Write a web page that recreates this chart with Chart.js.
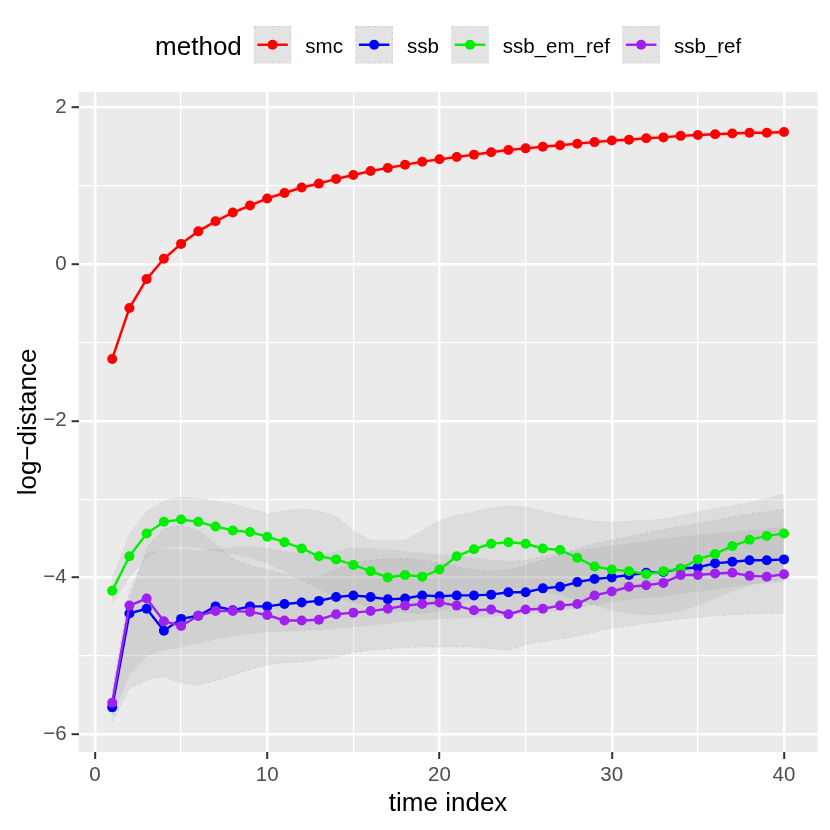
<!DOCTYPE html>
<html>
<head>
<meta charset="utf-8">
<script src="https://cdn.jsdelivr.net/npm/chart.js@4.4.1/dist/chart.umd.min.js"></script>
<style>
  html, body { margin: 0; padding: 0; background: #ffffff; }
  #wrap { width: 830px; height: 830px; }
</style>
</head>
<body>
<div id="wrap"><canvas id="chart" width="830" height="830"></canvas></div>
<script>
// x values (time index)
const timeIndex = [1, 2, 3, 4, 5, 6, 7, 8, 9, 10, 11, 12, 13, 14, 15, 16, 17, 18, 19, 20,
                   21, 22, 23, 24, 25, 26, 27, 28, 29, 30, 31, 32, 33, 34, 35, 36, 37, 38, 39, 40];

// method lines (log-distance)
const smc = [-1.21, -0.56, -0.19, 0.07, 0.26, 0.42, 0.55, 0.66, 0.75, 0.84,
             0.91, 0.98, 1.03, 1.09, 1.14, 1.19, 1.23, 1.27, 1.31, 1.34,
             1.37, 1.40, 1.43, 1.46, 1.48, 1.50, 1.52, 1.54, 1.56, 1.58,
             1.59, 1.61, 1.62, 1.64, 1.65, 1.66, 1.67, 1.68, 1.68, 1.69];
const ssb = [-5.66, -4.46, -4.40, -4.68, -4.53, -4.49, -4.37, -4.42, -4.37, -4.37,
             -4.34, -4.32, -4.30, -4.25, -4.23, -4.25, -4.28, -4.27, -4.23, -4.24,
             -4.23, -4.23, -4.22, -4.19, -4.19, -4.14, -4.12, -4.06, -4.02, -4.00,
             -3.97, -3.94, -3.93, -3.89, -3.87, -3.82, -3.80, -3.78, -3.78, -3.77];
const ssbEmRef = [-4.17, -3.73, -3.44, -3.29, -3.26, -3.29, -3.35, -3.40, -3.42, -3.48,
                  -3.55, -3.63, -3.73, -3.77, -3.84, -3.92, -4.00, -3.97, -3.99, -3.90,
                  -3.73, -3.64, -3.57, -3.55, -3.57, -3.63, -3.65, -3.75, -3.86, -3.90,
                  -3.92, -3.96, -3.92, -3.89, -3.77, -3.70, -3.60, -3.52, -3.47, -3.44];
const ssbRef = [-5.60, -4.36, -4.27, -4.56, -4.62, -4.49, -4.43, -4.43, -4.44, -4.48,
                -4.55, -4.55, -4.54, -4.47, -4.45, -4.43, -4.40, -4.36, -4.34, -4.32,
                -4.36, -4.42, -4.41, -4.47, -4.41, -4.40, -4.36, -4.34, -4.23, -4.18,
                -4.12, -4.10, -4.07, -3.97, -3.97, -3.95, -3.94, -3.98, -3.99, -3.96];

// ribbon bounds
const smcUpper = [-1.18, -0.53, -0.16, 0.10, 0.29, 0.45, 0.58, 0.69, 0.78, 0.87,
                  0.94, 1.01, 1.06, 1.12, 1.17, 1.22, 1.26, 1.30, 1.34, 1.37,
                  1.40, 1.43, 1.46, 1.49, 1.51, 1.53, 1.55, 1.57, 1.59, 1.61,
                  1.62, 1.64, 1.65, 1.67, 1.68, 1.69, 1.70, 1.71, 1.71, 1.72];
const smcLower = [-1.24, -0.59, -0.22, 0.04, 0.23, 0.39, 0.52, 0.63, 0.72, 0.81,
                  0.88, 0.95, 1.00, 1.06, 1.11, 1.16, 1.20, 1.24, 1.28, 1.31,
                  1.34, 1.37, 1.40, 1.43, 1.45, 1.47, 1.49, 1.51, 1.53, 1.55,
                  1.56, 1.58, 1.59, 1.61, 1.62, 1.63, 1.64, 1.65, 1.65, 1.66];
const ssbUpper = [-5.45, -4.30, -3.62, -3.38, -3.33, -3.40, -3.58, -3.76, -3.85, -3.90,
                  -3.96, -4.00, -3.99, -3.90, -3.82, -3.78, -3.76, -3.76, -3.78, -3.82,
                  -3.86, -3.90, -3.92, -3.90, -3.85, -3.78, -3.71, -3.63, -3.57, -3.52,
                  -3.48, -3.43, -3.39, -3.35, -3.31, -3.27, -3.23, -3.19, -3.16, -3.13];
const ssbLower = [-5.84, -5.42, -5.31, -5.27, -5.35, -5.38, -5.32, -5.25, -5.18, -5.12,
                  -5.09, -5.08, -5.05, -5.02, -4.96, -4.93, -4.91, -4.90, -4.89, -4.89,
                  -4.89, -4.89, -4.91, -4.93, -4.86, -4.82, -4.79, -4.75, -4.70, -4.65,
                  -4.62, -4.59, -4.56, -4.53, -4.51, -4.49, -4.48, -4.47, -4.46, -4.46];
const emUpper = [-4.00, -3.45, -3.15, -3.02, -2.97, -2.99, -3.02, -3.06, -3.12, -3.18,
                 -3.15, -3.12, -3.15, -3.22, -3.40, -3.52, -3.53, -3.52, -3.40, -3.27,
                 -3.20, -3.16, -3.11, -3.08, -3.10, -3.15, -3.20, -3.24, -3.28, -3.29,
                 -3.28, -3.27, -3.25, -3.21, -3.16, -3.12, -3.08, -3.04, -2.99, -2.93];
const emLower = [-4.34, -4.00, -3.75, -3.62, -3.60, -3.62, -3.66, -3.70, -3.75, -3.82,
                 -3.92, -4.04, -4.15, -4.25, -4.32, -4.38, -4.42, -4.45, -4.46, -4.44,
                 -4.36, -4.26, -4.18, -4.14, -4.14, -4.17, -4.22, -4.29, -4.36, -4.42,
                 -4.46, -4.48, -4.47, -4.43, -4.36, -4.27, -4.18, -4.10, -4.05, -4.03];
const refUpper = [-5.45, -4.15, -3.70, -3.64, -3.64, -3.66, -3.64, -3.62, -3.61, -3.63,
                  -3.67, -3.69, -3.72, -3.67, -3.62, -3.63, -3.65, -3.67, -3.69, -3.71,
                  -3.73, -3.75, -3.78, -3.79, -3.78, -3.73, -3.69, -3.66, -3.63, -3.60,
                  -3.57, -3.54, -3.51, -3.48, -3.46, -3.44, -3.42, -3.40, -3.38, -3.36];
const refLower = [-5.75, -5.25, -5.00, -4.93, -4.89, -4.84, -4.79, -4.75, -4.72, -4.69,
                  -4.69, -4.68, -4.67, -4.65, -4.63, -4.61, -4.59, -4.56, -4.54, -4.53,
                  -4.52, -4.51, -4.50, -4.48, -4.46, -4.44, -4.42, -4.39, -4.35, -4.31,
                  -4.28, -4.26, -4.24, -4.21, -4.18, -4.15, -4.12, -4.09, -4.07, -4.05];

// legend + axes
const methods = ['smc', 'ssb', 'ssb_em_ref', 'ssb_ref'];
const methodColors = ['#FF0000', '#0000FF', '#00EE00', '#A020F0'];
const xMajorTicks = [0, 10, 20, 30, 40];
const xMinorTicks = [5, 15, 25, 35];
const yMajorTicks = [-6, -4, -2, 0, 2];
const yMinorTicks = [-5, -3, -1, 1];

const FONT = '"Liberation Sans", Arial, Helvetica, sans-serif';

function pts(values) {
    return timeIndex.map((t, i) => ({ x: t, y: values[i] }));
}

function fade(hex, a) {
    const r = parseInt(hex.slice(1, 3), 16);
    const g = parseInt(hex.slice(3, 5), 16);
    const b = parseInt(hex.slice(5, 7), 16);
    return `rgba(${r},${g},${b},${a})`;
}

const ribbonFill = 'rgba(150,150,150,0.16)';
const ribbons = [[smcUpper, smcLower], [ssbUpper, ssbLower], [emUpper, emLower], [refUpper, refLower]];
const lines = [smc, ssb, ssbEmRef, ssbRef];

const datasets = [];
ribbons.forEach(([up, lo], k) => {
    const edge = fade(methodColors[k], 0.09);
    datasets.push({
        data: pts(up), fill: '+1', backgroundColor: ribbonFill,
        borderColor: edge, borderWidth: 1.2, borderDash: [2, 4],
        pointRadius: 0, order: 10
    });
    datasets.push({
        data: pts(lo), fill: false,
        borderColor: edge, borderWidth: 1.2, borderDash: [2, 4],
        pointRadius: 0, order: 10
    });
});
lines.forEach((vals, k) => {
    datasets.push({
        label: methods[k], data: pts(vals), fill: false,
        borderColor: methodColors[k], backgroundColor: methodColors[k],
        borderWidth: 2.4, pointRadius: 5, pointBorderWidth: 0,
        order: 4 - k
    });
});

const isMajor = (list, v) => list.some(m => Math.abs(m - v) < 1e-9);

// panel background
const panelBg = {
    id: 'panelBg',
    beforeDraw(chart) {
        const { ctx, chartArea: a } = chart;
        ctx.save();
        ctx.fillStyle = '#ffffff';
        ctx.fillRect(0, 0, chart.width, chart.height);
        ctx.fillStyle = '#EBEBEB';
        ctx.fillRect(a.left, a.top, a.right - a.left, a.bottom - a.top);
        ctx.restore();
    }
};

// ggplot-style legend and axis titles
const ggDecor = {
    id: 'ggDecor',
    afterDraw(chart) {
        const { ctx, chartArea: a } = chart;
        const keySize = 37.5;
        ctx.save();

        ctx.font = `26px ${FONT}`;
        const titleW = ctx.measureText('method').width;
        ctx.font = `20.5px ${FONT}`;
        const labelW = methods.map(m => ctx.measureText(m).width);
        const total = titleW + 12 + labelW.reduce((s, w) => s + w, 0)
            + methods.length * (keySize + 14) + (methods.length - 1) * 12.5;
        let x = (a.left + a.right) / 2 - total / 2;

        ctx.fillStyle = '#000000';
        ctx.textBaseline = 'alphabetic';
        ctx.font = `26px ${FONT}`;
        ctx.fillText('method', x, 55);
        x += titleW + 12;

        const top = 26, cy = top + keySize / 2;
        methods.forEach((m, k) => {
            ctx.fillStyle = '#E3E3E3';
            ctx.fillRect(x, top, keySize, keySize);
            ctx.setLineDash([2, 4]);
            ctx.strokeStyle = fade(methodColors[k], 0.12);
            ctx.lineWidth = 1;
            ctx.strokeRect(x + 0.5, top + 0.5, keySize - 1, keySize - 1);
            ctx.setLineDash([]);
            ctx.strokeStyle = methodColors[k];
            ctx.lineWidth = 2.4;
            ctx.beginPath();
            ctx.moveTo(x + 3.5, cy);
            ctx.lineTo(x + keySize - 3.5, cy);
            ctx.stroke();
            ctx.fillStyle = methodColors[k];
            ctx.beginPath();
            ctx.arc(x + keySize / 2, cy, 5, 0, Math.PI * 2);
            ctx.fill();
            x += keySize + 14;
            ctx.fillStyle = '#000000';
            ctx.font = `20.5px ${FONT}`;
            ctx.fillText(m, x, 53);
            x += labelW[k] + 12.5;
        });

        // axis titles
        ctx.font = `26px ${FONT}`;
        ctx.fillStyle = '#000000';
        ctx.textAlign = 'center';
        ctx.fillText('time index', (a.left + a.right) / 2, 811);
        ctx.translate(36, (a.top + a.bottom) / 2);
        ctx.rotate(-Math.PI / 2);
        ctx.fillText('log\u2212distance', 0, 0);
        ctx.restore();
    }
};

const gridOpts = (majors) => ({
    color: '#FFFFFF',
    lineWidth: c => (c.tick && isMajor(majors, c.tick.value)) ? 2.4 : 1.2,
    drawTicks: true,
    tickLength: 7,
    tickWidth: 2,
    tickColor: c => (c.tick && isMajor(majors, c.tick.value)) ? '#333333' : 'rgba(0,0,0,0)'
});

new Chart(document.getElementById('chart'), {
    type: 'line',
    data: { datasets },
    options: {
        responsive: false,
        animation: false,
        events: [],
        layout: { padding: { top: 92, right: 12.4, bottom: 0, left: 0 } },
        plugins: {
            legend: { display: false },
            tooltip: { enabled: false },
            filler: { propagate: false }
        },
        scales: {
            x: {
                type: 'linear',
                min: -0.95,
                max: 41.95,
                border: { display: false },
                grid: gridOpts(xMajorTicks),
                afterBuildTicks: s => {
                    s.ticks = [...xMajorTicks, ...xMinorTicks].sort((p, q) => p - q).map(v => ({ value: v }));
                },
                afterFit: s => { s.height = 78; },
                ticks: {
                    autoSkip: false,
                    maxRotation: 0,
                    padding: 4,
                    color: '#4D4D4D',
                    font: { family: FONT, size: 20.5 },
                    callback: v => isMajor(xMajorTicks, v) ? String(v) : ''
                }
            },
            y: {
                type: 'linear',
                min: -6.23,
                max: 2.2,
                border: { display: false },
                grid: gridOpts(yMajorTicks),
                afterBuildTicks: s => {
                    s.ticks = [...yMajorTicks, ...yMinorTicks].sort((p, q) => p - q).map(v => ({ value: v }));
                },
                afterFit: s => { s.width = 78.6; },
                ticks: {
                    autoSkip: false,
                    padding: 5,
                    color: '#4D4D4D',
                    font: { family: FONT, size: 20.5 },
                    callback: v => isMajor(yMajorTicks, v) ? String(v).replace('-', '\u2212') : ''
                }
            }
        }
    },
    plugins: [panelBg, ggDecor]
});
</script>
</body>
</html>
